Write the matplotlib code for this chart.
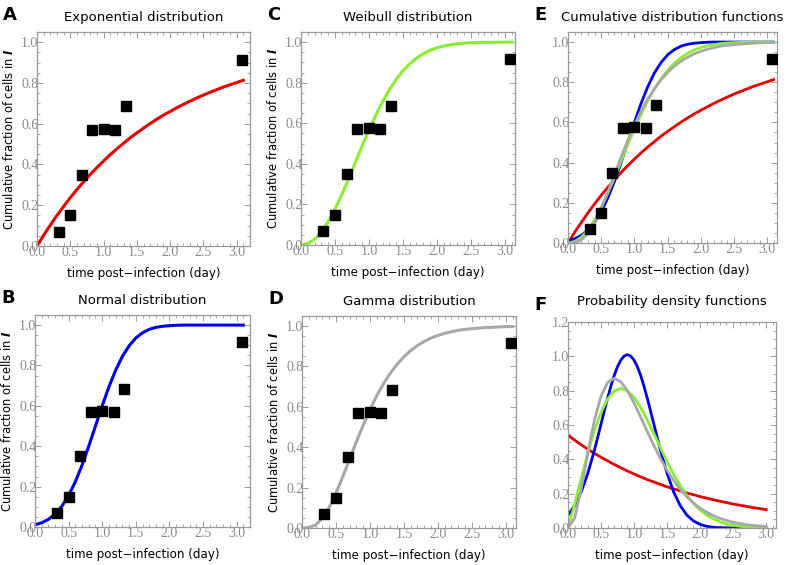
import numpy as np
import matplotlib
matplotlib.use('Agg')
import matplotlib.pyplot as plt
from matplotlib.ticker import MultipleLocator, FormatStrFormatter

# observed data (day, cumulative fraction)
obs_t = [0.33, 0.50, 0.67, 0.83, 1.00, 1.17, 1.33, 3.08]
obs_y = [0.07, 0.15, 0.35, 0.57, 0.575, 0.57, 0.685, 0.915]

# curves at 0.1-day steps
t_cdf = [round(0.1 * i, 1) for i in range(32)]
t_pdf = t_cdf[:31]

cdf_exp = [0.000, 0.053, 0.102, 0.150, 0.194, 0.237, 0.277, 0.315, 0.351, 0.385,
           0.417, 0.448, 0.477, 0.504, 0.531, 0.555, 0.578, 0.601, 0.622, 0.642,
           0.660, 0.678, 0.695, 0.711, 0.726, 0.741, 0.754, 0.767, 0.780, 0.791,
           0.802, 0.813]
cdf_norm = [0.011, 0.021, 0.038, 0.064, 0.103, 0.156, 0.224, 0.306, 0.400, 0.500,
            0.600, 0.694, 0.776, 0.845, 0.897, 0.936, 0.962, 0.979, 0.989, 0.994,
            0.997, 0.999, 1.000, 1.000, 1.000, 1.000, 1.000, 1.000, 1.000, 1.000,
            1.000, 1.000]
cdf_weib = [0.000, 0.007, 0.028, 0.064, 0.115, 0.177, 0.248, 0.326, 0.407, 0.488,
            0.566, 0.639, 0.706, 0.765, 0.816, 0.859, 0.893, 0.921, 0.943, 0.960,
            0.972, 0.981, 0.987, 0.992, 0.995, 0.997, 0.998, 0.999, 0.999, 1.000,
            1.000, 1.000]
cdf_gam = [0.000, 0.002, 0.015, 0.048, 0.102, 0.172, 0.254, 0.340, 0.427, 0.509,
           0.586, 0.655, 0.715, 0.767, 0.811, 0.848, 0.879, 0.904, 0.924, 0.941,
           0.954, 0.964, 0.972, 0.979, 0.984, 0.987, 0.990, 0.993, 0.994, 0.996,
           0.997, 0.998]

pdf_exp = [0.540, 0.512, 0.485, 0.459, 0.435, 0.412, 0.391, 0.370, 0.351, 0.332,
           0.315, 0.298, 0.282, 0.268, 0.254, 0.240, 0.228, 0.216, 0.204, 0.194,
           0.183, 0.174, 0.165, 0.156, 0.148, 0.140, 0.133, 0.126, 0.119, 0.113,
           0.107]
# normal density is sharper, so it is read at finer steps around the peak
t_pdf_norm = [0.0, 0.1, 0.2, 0.3, 0.4, 0.5, 0.55, 0.6, 0.65, 0.7, 0.75, 0.8,
              0.85, 0.9, 0.95, 1.0, 1.05, 1.1, 1.15, 1.2, 1.25, 1.3, 1.4, 1.5,
              1.6, 1.7, 1.8, 1.9, 2.0, 2.1, 2.2, 2.3, 2.4, 2.5, 2.6, 2.7, 2.8,
              2.9, 3.0]
pdf_norm = [0.075, 0.130, 0.210, 0.319, 0.453, 0.605, 0.682, 0.757, 0.827, 0.889,
            0.940, 0.978, 1.002, 1.010, 1.002, 0.978, 0.940, 0.889, 0.827, 0.757,
            0.682, 0.605, 0.453, 0.319, 0.210, 0.130, 0.075, 0.041, 0.021, 0.010,
            0.004, 0.002, 0.001, 0.000, 0.000, 0.000, 0.000, 0.000, 0.000]
pdf_weib = [0.000, 0.138, 0.290, 0.436, 0.566, 0.673, 0.751, 0.798, 0.813, 0.799,
            0.761, 0.702, 0.630, 0.550, 0.468, 0.387, 0.313, 0.247, 0.190, 0.143,
            0.105, 0.075, 0.053, 0.036, 0.024, 0.016, 0.010, 0.006, 0.004, 0.002,
            0.001]
pdf_gam = [0.000, 0.057, 0.227, 0.437, 0.628, 0.768, 0.848, 0.872, 0.852, 0.800,
           0.728, 0.647, 0.562, 0.481, 0.405, 0.337, 0.277, 0.225, 0.182, 0.146,
           0.116, 0.092, 0.072, 0.056, 0.044, 0.034, 0.026, 0.020, 0.015, 0.012,
           0.009]

RED = '#e80000'
BLUE = '#0000f0'
GREEN = '#88f030'
GRAY = '#a8a8a8'

W, H = 787, 565
fig = plt.figure(figsize=(W / 100, H / 100), dpi=100, facecolor='white')


def make_ax(l, r, t, b):
    ax = fig.add_axes([l / W, 1 - b / H, (r - l) / W, (b - t) / H])
    for s in ax.spines.values():
        s.set_color('#9a9a9a')
        s.set_linewidth(0.9)
    ax.tick_params(which='both', direction='in', top=True, right=True,
                   colors='#9a9a9a', labelcolor='#8a8a8a', labelsize=10)
    ax.tick_params(axis='x', pad=0)
    ax.tick_params(axis='y', pad=-1)
    ax.tick_params(which='major', length=4, width=0.7)
    ax.tick_params(which='minor', length=2, width=0.6)
    ax.xaxis.set_major_locator(MultipleLocator(0.5))
    ax.xaxis.set_minor_locator(MultipleLocator(0.1))
    ax.set_xlabel('time post\u2212infection (day)', fontsize=8.6, labelpad=6)
    return ax


def finish(ax, letter, title, ylab=True, ymax=1.05, tpad=8):
    ax.set_ylim(0, ymax)
    ax.yaxis.set_major_locator(MultipleLocator(0.2))
    ax.yaxis.set_minor_locator(MultipleLocator(0.05))
    ax.xaxis.set_major_formatter(FormatStrFormatter('%.1f'))
    ax.yaxis.set_major_formatter(FormatStrFormatter('%.1f'))
    for lab in ax.get_xticklabels() + ax.get_yticklabels():
        lab.set_fontfamily('Liberation Serif')
    ax.set_title(title, fontsize=9.5, pad=tpad)
    if ylab:
        ax.set_ylabel(r'Cumulative fraction of cells in $\mathbfit{I}$',
                      fontsize=8.3, labelpad=4)
    bb = ax.get_position()
    fig.text(bb.x0 - 34 / W, bb.y1 + 8 / H, letter, fontsize=13,
             fontweight='bold', ha='left', va='bottom')


def data(ax):
    ax.plot(obs_t, obs_y, 's', color='black', markersize=7, zorder=5)


# A exponential
ax = make_ax(37, 250, 32, 246)
ax.plot(t_cdf, cdf_exp, color=RED, lw=2.2)
data(ax)
ax.set_xlim(0, 3.2)
finish(ax, 'A', 'Exponential distribution')

# C Weibull
ax = make_ax(301, 515, 32, 245)
ax.plot(t_cdf, cdf_weib, color=GREEN, lw=2.2)
data(ax)
ax.set_xlim(0, 3.15)
finish(ax, 'C', 'Weibull distribution')

# E all CDFs
ax = make_ax(568, 777, 32, 243)
ax.plot(t_cdf, cdf_exp, color=RED, lw=2.0)
ax.plot(t_cdf, cdf_norm, color=BLUE, lw=2.0)
ax.plot(t_cdf, cdf_weib, color=GREEN, lw=2.0)
ax.plot(t_cdf, cdf_gam, color=GRAY, lw=2.0)
data(ax)
ax.set_xlim(0, 3.15)
finish(ax, 'E', 'Cumulative distribution functions', ylab=False)

# B normal
ax = make_ax(35, 250, 315, 527)
ax.plot(t_cdf, cdf_norm, color=BLUE, lw=2.2)
data(ax)
ax.set_xlim(0, 3.2)
finish(ax, 'B', 'Normal distribution')

# D gamma
ax = make_ax(302, 516, 316, 528)
ax.plot(t_cdf, cdf_gam, color=GRAY, lw=2.2)
data(ax)
ax.set_xlim(0, 3.15)
finish(ax, 'D', 'Gamma distribution')

# F all PDFs
ax = make_ax(568, 776, 322, 528)
ax.plot(t_pdf, pdf_exp, color=RED, lw=2.0)
ax.plot(t_pdf_norm, pdf_norm, color=BLUE, lw=2.0)
ax.plot(t_pdf, pdf_weib, color=GREEN, lw=2.0)
ax.plot(t_pdf, pdf_gam, color=GRAY, lw=2.0)
ax.set_xlim(0, 3.15)
finish(ax, 'F', 'Probability density functions', ylab=False, ymax=1.2, tpad=12)

fig.savefig('out.png', dpi=100, facecolor='white')
